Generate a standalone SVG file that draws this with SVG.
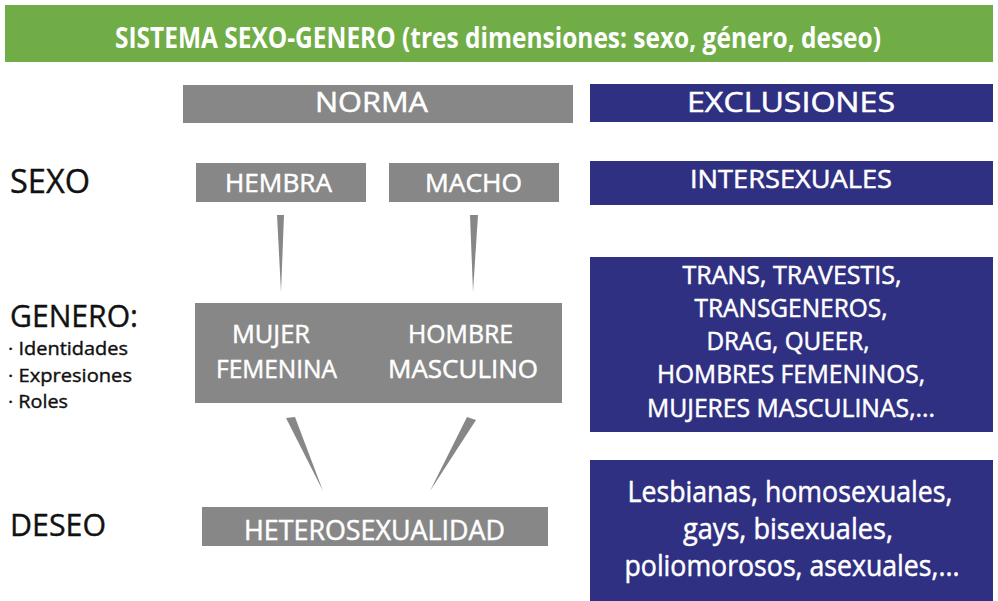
<svg xmlns="http://www.w3.org/2000/svg" width="998" height="601" viewBox="0 0 998 601">
<style>
text{font-family:"Open Sans","Noto Sans","Liberation Sans",sans-serif;}
.w{fill:#ffffff;stroke:#ffffff;stroke-width:0.5;}
.k{fill:#111111;stroke:#111111;stroke-width:0.4;}
.g{fill:#878787;}
.n{fill:#2f3082;}
.hd{fill:#70ad47;}
.c{fill:#878787;}
</style>
<rect width="998" height="601" fill="#ffffff"/>
<g id="title">
<rect class="hd" x="5" y="5" width="988" height="57"/>
<text x="498" y="48" font-size="29" font-weight="bold" text-anchor="middle" fill="#ffffff" textLength="766" lengthAdjust="spacingAndGlyphs">SISTEMA SEXO-GENERO (tres dimensiones: sexo, género, deseo)</text>
</g>
<g id="norma">
<rect class="g" x="183" y="85" width="390" height="38"/>
<text class="w" x="315" y="112" font-size="28" textLength="113" lengthAdjust="spacingAndGlyphs">NORMA</text>
</g>
<g id="exclusiones">
<rect class="n" x="590" y="84" width="403" height="38"/>
<text class="w" x="687" y="112" font-size="28" textLength="208" lengthAdjust="spacingAndGlyphs">EXCLUSIONES</text>
</g>
<g id="label-sexo">
<text class="k" x="10" y="193" font-size="33" textLength="80" lengthAdjust="spacingAndGlyphs">SEXO</text>
</g>
<g id="label-genero">
<text class="k" x="10" y="327" font-size="31" textLength="128" lengthAdjust="spacingAndGlyphs">GENERO:</text>
<text class="k" x="8" y="355" font-size="19" textLength="120" lengthAdjust="spacingAndGlyphs">· Identidades</text>
<text class="k" x="8" y="382" font-size="19" textLength="124" lengthAdjust="spacingAndGlyphs">· Expresiones</text>
<text class="k" x="8" y="408" font-size="19" textLength="60" lengthAdjust="spacingAndGlyphs">· Roles</text>
</g>
<g id="label-deseo">
<text class="k" x="10" y="536" font-size="31" textLength="96" lengthAdjust="spacingAndGlyphs">DESEO</text>
</g>
<g id="hembra">
<rect class="g" x="196" y="163" width="170" height="39"/>
<text class="w" x="225" y="192" font-size="25" textLength="107" lengthAdjust="spacingAndGlyphs">HEMBRA</text>
</g>
<g id="macho">
<rect class="g" x="389" y="163" width="170" height="39"/>
<text class="w" x="425" y="192" font-size="25" textLength="97" lengthAdjust="spacingAndGlyphs">MACHO</text>
</g>
<g id="intersexuales">
<rect class="n" x="590" y="161" width="403" height="44"/>
<text class="w" x="690" y="188" font-size="25" textLength="202" lengthAdjust="spacingAndGlyphs">INTERSEXUALES</text>
</g>
<g id="genero-norma">
<rect class="g" x="195" y="303" width="367" height="100"/>
<text class="w" x="232" y="343" font-size="26" textLength="78" lengthAdjust="spacingAndGlyphs">MUJER</text>
<text class="w" x="216" y="378" font-size="26" textLength="121" lengthAdjust="spacingAndGlyphs">FEMENINA</text>
<text class="w" x="408" y="343" font-size="26" textLength="105" lengthAdjust="spacingAndGlyphs">HOMBRE</text>
<text class="w" x="388" y="378" font-size="26" textLength="150" lengthAdjust="spacingAndGlyphs">MASCULINO</text>
</g>
<g id="trans">
<rect class="n" x="590" y="257" width="403" height="175"/>
<g text-anchor="middle" font-size="25">
<text class="w" x="792" y="284" textLength="219" lengthAdjust="spacingAndGlyphs">TRANS, TRAVESTIS,</text>
<text class="w" x="791" y="317" textLength="193" lengthAdjust="spacingAndGlyphs">TRANSGENEROS,</text>
<text class="w" x="788" y="350" textLength="163" lengthAdjust="spacingAndGlyphs">DRAG, QUEER,</text>
<text class="w" x="791" y="383" textLength="268" lengthAdjust="spacingAndGlyphs">HOMBRES FEMENINOS,</text>
<text class="w" x="791" y="417" textLength="288" lengthAdjust="spacingAndGlyphs">MUJERES MASCULINAS,...</text>
</g>
</g>
<g id="heterosexualidad">
<rect class="g" x="202" y="507" width="346" height="39"/>
<text class="w" x="244" y="540" font-size="27" textLength="261" lengthAdjust="spacingAndGlyphs">HETEROSEXUALIDAD</text>
</g>
<g id="deseo-exclusiones">
<rect class="n" x="590" y="460" width="403" height="141"/>
<g text-anchor="middle" font-size="29">
<text class="w" x="790" y="502" textLength="325" lengthAdjust="spacingAndGlyphs">Lesbianas, homosexuales,</text>
<text class="w" x="788" y="539" textLength="210" lengthAdjust="spacingAndGlyphs">gays, bisexuales,</text>
<text class="w" x="792" y="576" textLength="335" lengthAdjust="spacingAndGlyphs">poliomorosos, asexuales,...</text>
</g>
</g>
<g id="connectors">
<polygon class="c" points="277,215 284,215 281,292"/>
<polygon class="c" points="470,215 478,215 473,292"/>
<polygon class="c" points="286,418 295,417 323,491"/>
<polygon class="c" points="467,417 476,420 430,491"/>
</g>
</svg>
